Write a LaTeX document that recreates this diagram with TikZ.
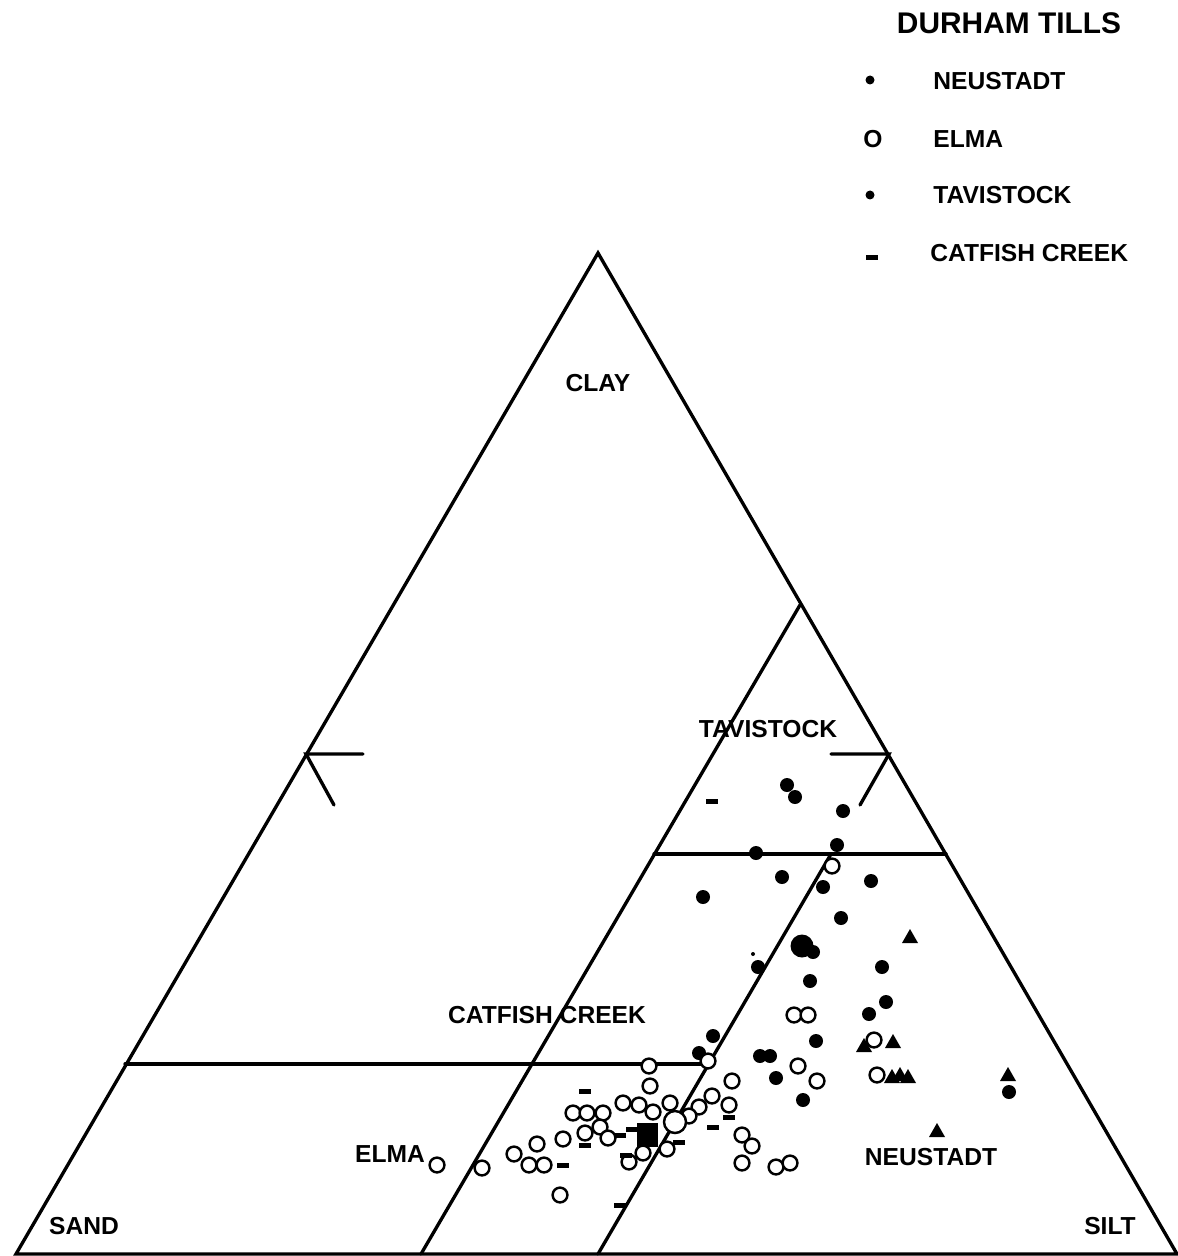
\documentclass[tikz,border=0pt]{standalone}
\usepackage{fontspec}
\setmainfont{Liberation Sans}
\usetikzlibrary{positioning}

\begin{document}
\begin{tikzpicture}[x=0.2mm, y=-0.2mm,
  edge/.style={line width=1.9pt, line join=miter, line cap=round},
  field/.style={font=\fontsize{14}{16}\selectfont\bfseries, inner sep=0pt},
  legend/.style={font=\fontsize{14}{16}\selectfont\bfseries, inner sep=0pt, anchor=west},
  opendot/.style={draw=black, line width=1.4pt, fill=white},
]
\useasboundingbox (0,0) rectangle (1178,1256);

% ternary frame
\coordinate (sand) at (16,1254);
\coordinate (silt) at (1177,1254);
\coordinate (clay) at (598,253);
\coordinate (tip)  at (800,605);
\coordinate (a0)   at (421,1254);
\coordinate (b0)   at (598,1254);
\coordinate (b1)   at (831,854);
\coordinate (u0)   at (654,854);
\coordinate (u1)   at (946,854);
\coordinate (l0)   at (125,1064);
\coordinate (l1)   at (708,1064);
\draw[edge] (sand) -- (silt) -- (clay) -- cycle;
\draw[edge] (a0) -- (tip);
\draw[edge] (b0) -- (b1);
\draw[edge] (u0) -- (u1);
\draw[edge] (l0) -- (l1);

% scale marks
\coordinate (ml) at (306,754);
\coordinate (mr) at (889,754);
\draw[edge] (363,754) -- (ml) -- (334,805);
\draw[edge] (831,754) -- (mr) -- (860,805);

% field labels
\node[field] (clayname) at (598,383) {CLAY};
\node[field] (tavname)  at (768,729) {TAVISTOCK};
\node[field] (catname)  at (547,1015) {CATFISH CREEK};
\node[field] (elmaname) at (390,1154) {ELMA};
\node[field] (neuname)  at (931,1157) {NEUSTADT};
\node[field] (sandname) at (84,1226) {SAND};
\node[field] (siltname) at (1110,1226) {SILT};

% legend
\node[font=\fontsize{17}{19}\selectfont\bfseries, inner sep=0pt] (title) at (1009,23) {DURHAM TILLS};
\fill (870,80) circle[radius=4.5];
\node[legend] (lneu) at (933,81) {NEUSTADT};
\node[font=\fontsize{14}{16}\selectfont\bfseries, inner sep=0pt] (lo) at (873,139) {O};
\node[legend] (lelma) at (933,139) {ELMA};
\fill (870,195) circle[radius=4.5];
\node[legend] (ltav) at (933,195) {TAVISTOCK};
\fill (866,255) rectangle (878,260);
\node[legend] (lcat) at (930,253) {CATFISH CREEK};

% samples
\foreach \x/\y in {787/785,795/797,843/811,837/845,756/853,782/877,703/897,823/887,
  871/881,841/918,813/952,758/967,882/967,810/981,886/1002,869/1014,713/1036,
  816/1041,699/1053,760/1056,770/1056,776/1078,803/1100,1009/1092}
  \fill (\x,\y) circle[radius=7];
\fill (802,946) circle[radius=11.5];
\fill (753,954) circle[radius=2];

\foreach \x/\y in {832/866,794/1015,808/1015,874/1040,708/1061,798/1066,877/1075,
  817/1081,732/1081,712/1096,699/1107,689/1116,729/1105,742/1135,752/1146,742/1163,
  776/1167,790/1163,649/1066,650/1086,623/1103,639/1105,653/1112,670/1103,573/1113,
  587/1113,603/1113,600/1127,585/1133,608/1138,563/1139,537/1144,514/1154,529/1165,
  544/1165,482/1168,437/1165,560/1195,667/1149,643/1153,629/1162}
  \draw[opendot] (\x,\y) circle[radius=7.4];
\draw[opendot] (675,1122) circle[radius=11];

\foreach \x/\y in {910/937,864/1046,893/1042,892/1077,900/1075,908/1077,1008/1075,937/1131}
  \fill (\x-8,\y+6) -- (\x+8,\y+6) -- (\x,\y-8) -- cycle;

\foreach \x/\y in {712/801,585/1091,729/1117,713/1127,620/1135,632/1129,585/1145,
  679/1142,563/1165,626/1155,620/1205}
  \fill (\x-6,\y-2.5) rectangle (\x+6,\y+2.5);

\fill (637,1123) rectangle (658,1147);
\end{tikzpicture}
\end{document}
